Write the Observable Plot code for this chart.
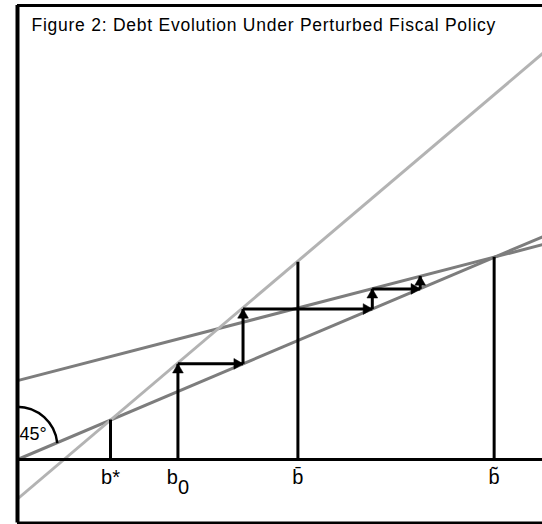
<!DOCTYPE html>
<html>
<head>
<meta charset="utf-8">
<script src="https://cdn.jsdelivr.net/npm/d3@7"></script>
<script src="https://cdn.jsdelivr.net/npm/@observablehq/plot@0.6"></script>
<style>
  html, body { margin: 0; padding: 0; background: #fff; }
  #chart svg { display: block; }
</style>
</head>
<body>
<div id="chart"></div>
<script>
// ---------- data ----------
const title = "Figure 2: Debt Evolution Under Perturbed Fiscal Policy";

// straight lines (debt next period vs debt this period)
const lineNames  = ["45-degree line", "policy below b-bar", "policy above b-bar"];
const lineStartX = [0, 0, 0];
const lineStartY = [0, -2, 4];
const lineEndX   = [11.3, 11.3, 11.3];
const lineEndY   = [11.3, 20.6, 10.9];

// tick labels on the horizontal axis
const tickLabels = ["b*", "b", "b\u0304", "b\u0303"];
const tickValues = [2, 3.45, 6.03, 10.25];
const tickSubscripts = ["", "0", "", ""];

// vertical guide lines
const guideX   = [2, 6.03, 10.25];
const guideTop = [2, 10.0, 10.25];

// cobweb path of debt, starting from b0
const pathX = [3.45, 3.45, 4.85, 4.85, 7.63, 7.63, 8.66, 8.66];
const pathY = [0,    4.85, 4.85, 7.63, 7.63, 8.65, 8.65, 9.30];

const angleLabel = "45°";

// ---------- build ----------
const yTop = 23.02, yBottom = -3.22, xRight = 11.29;
const lines = lineNames.map((name, i) => ({name, x1: lineStartX[i], y1: lineStartY[i], x2: lineEndX[i], y2: lineEndY[i]}));
const guides = guideX.map((x, i) => ({x, y1: 0, y2: guideTop[i]}));
const segs = d3.range(pathX.length - 1).map(i => ({x1: pathX[i], y1: pathY[i], x2: pathX[i + 1], y2: pathY[i + 1]}));
const upSegs = segs.filter(s => s.x1 === s.x2);
const rightSegs = segs.filter(s => s.y1 === s.y2);
const ticks = tickLabels.map((label, i) => ({label, x: tickValues[i], sub: tickSubscripts[i]}));

const font = "'Liberation Sans', Arial, sans-serif";

const arcMark = (index, scales) => {
  const cx = scales.x(0), cy = scales.y(0.6);
  const p = d3.path();
  p.arc(cx, cy, 40.5, -Math.PI / 2, -0.1);
  return d3.create("svg:path")
    .attr("d", p.toString())
    .attr("fill", "none")
    .attr("stroke", "black")
    .attr("stroke-width", 2.5)
    .node();
};

const chart = Plot.plot({
  width: 542,
  height: 524,
  marginLeft: 17,
  marginRight: 0,
  marginTop: 5,
  marginBottom: 1.5,
  x: {domain: [0, xRight], axis: null},
  y: {domain: [yBottom, yTop], axis: null},
  style: {background: "white", fontFamily: font, color: "black"},
  marks: [
    Plot.link(lines.filter((d, i) => i !== 1), {x1: "x1", y1: "y1", x2: "x2", y2: "y2", stroke: "#7d7d7d", strokeWidth: 3, clip: true}),
    Plot.link(lines.filter((d, i) => i === 1), {x1: "x1", y1: "y1", x2: "x2", y2: "y2", stroke: "#b3b3b3", strokeWidth: 3, clip: true}),
    Plot.ruleX(guides, {x: "x", y1: "y1", y2: "y2", stroke: "black", strokeWidth: 3}),
    Plot.link(segs, {x1: "x1", y1: "y1", x2: "x2", y2: "y2", stroke: "black", strokeWidth: 3}),
    Plot.dot(upSegs, {x: "x2", y: "y2", symbol: "triangle", r: 4, fill: "black", stroke: "black", strokeWidth: 0.5, dy: 6}),
    Plot.dot(rightSegs, {x: "x2", y: "y2", symbol: "triangle", r: 4, fill: "black", stroke: "black", strokeWidth: 0.5, rotate: 90, dx: -6}),
    Plot.ruleY([0], {stroke: "black", strokeWidth: 3}),
    Plot.ruleY([yTop], {stroke: "black", strokeWidth: 3}),
    Plot.ruleY([yBottom], {stroke: "black", strokeWidth: 3}),
    Plot.ruleX([0], {stroke: "black", strokeWidth: 4}),
    arcMark,
    Plot.text([angleLabel], {x: 0, y: 0, text: d => d, dx: 2, dy: -19, textAnchor: "start", lineAnchor: "bottom", fontSize: 18, fill: "black"}),
    Plot.text(ticks.filter(d => d.sub === ""), {x: "x", y: 0, text: "label", dy: 25, textAnchor: "middle", lineAnchor: "bottom", fontSize: 20, fill: "black"}),
    Plot.text(ticks.filter(d => d.sub !== ""), {x: "x", y: 0, text: "label", dx: 0, dy: 25, textAnchor: "end", lineAnchor: "bottom", fontSize: 20, fill: "black"}),
    Plot.text(ticks.filter(d => d.sub !== ""), {x: "x", y: 0, text: "sub", dx: 0, dy: 35, textAnchor: "start", lineAnchor: "bottom", fontSize: 20, fill: "black"}),
    Plot.text([title], {frameAnchor: "top-left", text: d => d, dx: 14, dy: 25, textAnchor: "start", lineAnchor: "bottom", fontSize: 17.5, fill: "black"})
  ]
});
d3.select(chart).selectAll("text").filter(function () { return this.textContent === title; }).style("letter-spacing", "0.75px");
document.getElementById("chart").append(chart);
</script>
</body>
</html>
